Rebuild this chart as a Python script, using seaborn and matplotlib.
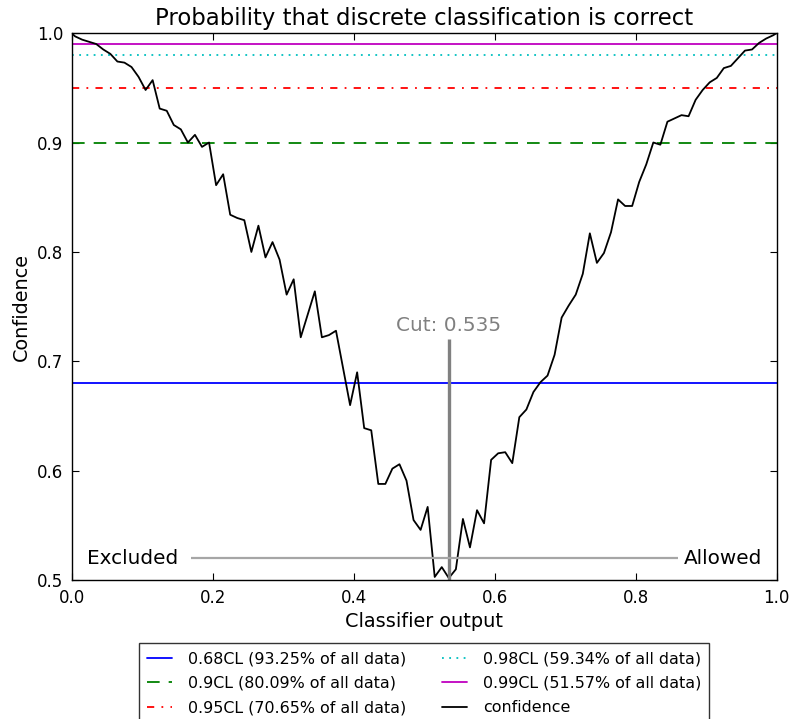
import pandas as pd
import seaborn as sns
import matplotlib
matplotlib.use('Agg')
import matplotlib.pyplot as plt

# classifier output (bin centres, plus the two end points)
classifier_output = [
    0.0, 0.005, 0.015, 0.025, 0.035, 0.045, 0.055, 0.065, 0.075, 0.085,
    0.095, 0.105, 0.115, 0.125, 0.135, 0.145, 0.155, 0.165, 0.175, 0.185,
    0.195, 0.205, 0.215, 0.225, 0.235, 0.245, 0.255, 0.265, 0.275, 0.285,
    0.295, 0.305, 0.315, 0.325, 0.335, 0.345, 0.355, 0.365, 0.375, 0.385,
    0.395, 0.405, 0.415, 0.425, 0.435, 0.445, 0.455, 0.465, 0.475, 0.485,
    0.495, 0.505, 0.515, 0.525, 0.535, 0.545, 0.555, 0.565, 0.575, 0.585,
    0.595, 0.605, 0.615, 0.625, 0.635, 0.645, 0.655, 0.665, 0.675, 0.685,
    0.695, 0.705, 0.715, 0.725, 0.735, 0.745, 0.755, 0.765, 0.775, 0.785,
    0.795, 0.805, 0.815, 0.825, 0.835, 0.845, 0.855, 0.865, 0.875, 0.885,
    0.895, 0.905, 0.915, 0.925, 0.935, 0.945, 0.955, 0.965, 0.975, 0.985,
    0.995, 1.0,
]
confidence = [
    1.000, 0.997, 0.994, 0.992, 0.990, 0.985, 0.981, 0.974, 0.973, 0.969,
    0.960, 0.948, 0.957, 0.931, 0.929, 0.916, 0.912, 0.900, 0.907, 0.896,
    0.900, 0.861, 0.871, 0.834, 0.831, 0.829, 0.800, 0.824, 0.795, 0.809,
    0.793, 0.761, 0.775, 0.722, 0.743, 0.764, 0.722, 0.724, 0.728, 0.694,
    0.660, 0.690, 0.639, 0.637, 0.588, 0.588, 0.602, 0.606, 0.591, 0.555,
    0.546, 0.567, 0.503, 0.512, 0.502, 0.510, 0.556, 0.530, 0.564, 0.552,
    0.610, 0.616, 0.617, 0.607, 0.649, 0.656, 0.672, 0.681, 0.687, 0.706,
    0.740, 0.751, 0.761, 0.780, 0.817, 0.790, 0.799, 0.818, 0.848, 0.842,
    0.842, 0.864, 0.880, 0.900, 0.898, 0.919, 0.922, 0.925, 0.924, 0.939,
    0.948, 0.955, 0.959, 0.968, 0.970, 0.977, 0.984, 0.985, 0.991, 0.995,
    0.998, 1.000,
]

# confidence levels and the fraction of data kept at each
cl_levels = [0.68, 0.9, 0.95, 0.98, 0.99]
cl_fractions = [93.25, 80.09, 70.65, 59.34, 51.57]
cl_colors = ['b', 'g', 'r', 'c', 'm']
cl_styles = ['-', (0, (7, 5)), (0, (4, 4, 1, 4)), (0, (1, 3)), '-']

CUT = 0.535
CUT_TOP = 0.72
SPLIT_Y = 0.52
SPLIT_X0, SPLIT_X1 = 0.17, 0.86


def main():
    sns.set_style('ticks', {'xtick.direction': 'in', 'ytick.direction': 'in'})
    plt.rcParams['font.family'] = ['DejaVu Sans']
    plt.rcParams.update({'xtick.top': True, 'ytick.right': True,
                         'xtick.major.size': 5, 'ytick.major.size': 5,
                         'axes.edgecolor': 'black', 'axes.linewidth': 1.0,
                         'text.color': 'black', 'axes.labelcolor': 'black',
                         'xtick.color': 'black', 'ytick.color': 'black'})

    fig = plt.figure(figsize=(7.95, 7.19), dpi=100)
    ax = fig.add_axes([0.090, 0.193, 0.887, 0.761])

    for lvl, frac, col, ls in zip(cl_levels, cl_fractions, cl_colors, cl_styles):
        ax.axhline(lvl, color=col, linestyle=ls, linewidth=1.3,
                   label=f'{lvl}CL ({frac:.2f}% of all data)')

    df = pd.DataFrame({'x': classifier_output, 'confidence': confidence})
    sns.lineplot(data=df, x='x', y='confidence', color='k', linewidth=1.3,
                 label='confidence', ax=ax, estimator=None, sort=False)

    ax.vlines(CUT, 0.5, CUT_TOP, color='0.5', linewidth=2.4)
    ax.text(CUT, CUT_TOP + 0.004, f'Cut: {CUT}', color='0.5', fontsize=14.4,
            ha='center', va='bottom')
    ax.hlines(SPLIT_Y, SPLIT_X0, SPLIT_X1, color='0.65', linewidth=1.6)
    ax.text(SPLIT_X0 - 0.018, SPLIT_Y, 'Excluded', fontsize=14.4, ha='right', va='center')
    ax.text(SPLIT_X1 + 0.008, SPLIT_Y, 'Allowed', fontsize=14.4, ha='left', va='center')

    ax.set_xlim(0, 1)
    ax.set_ylim(0.5, 1.0)
    ax.set_xticks([0.0, 0.2, 0.4, 0.6, 0.8, 1.0])
    ax.set_yticks([0.5, 0.6, 0.7, 0.8, 0.9, 1.0])
    ax.tick_params(labelsize=12, pad=6)
    ax.set_xlabel('Classifier output', fontsize=13.9)
    ax.set_ylabel('Confidence', fontsize=13.9)
    ax.set_title('Probability that discrete classification is correct', fontsize=16.4)

    leg = ax.legend(loc='upper center', bbox_to_anchor=(0.5, -0.115), ncol=2,
                    fontsize=11.4, frameon=True, fancybox=False, borderaxespad=0,
                    borderpad=0.5, handlelength=1.55, handletextpad=1.0,
                    labelspacing=0.6, columnspacing=2.3)
    leg.get_frame().set_edgecolor('black')
    leg.get_frame().set_linewidth(1.0)

    fig.savefig('out.png', dpi=100)
    plt.close(fig)


if __name__ == '__main__':
    main()
